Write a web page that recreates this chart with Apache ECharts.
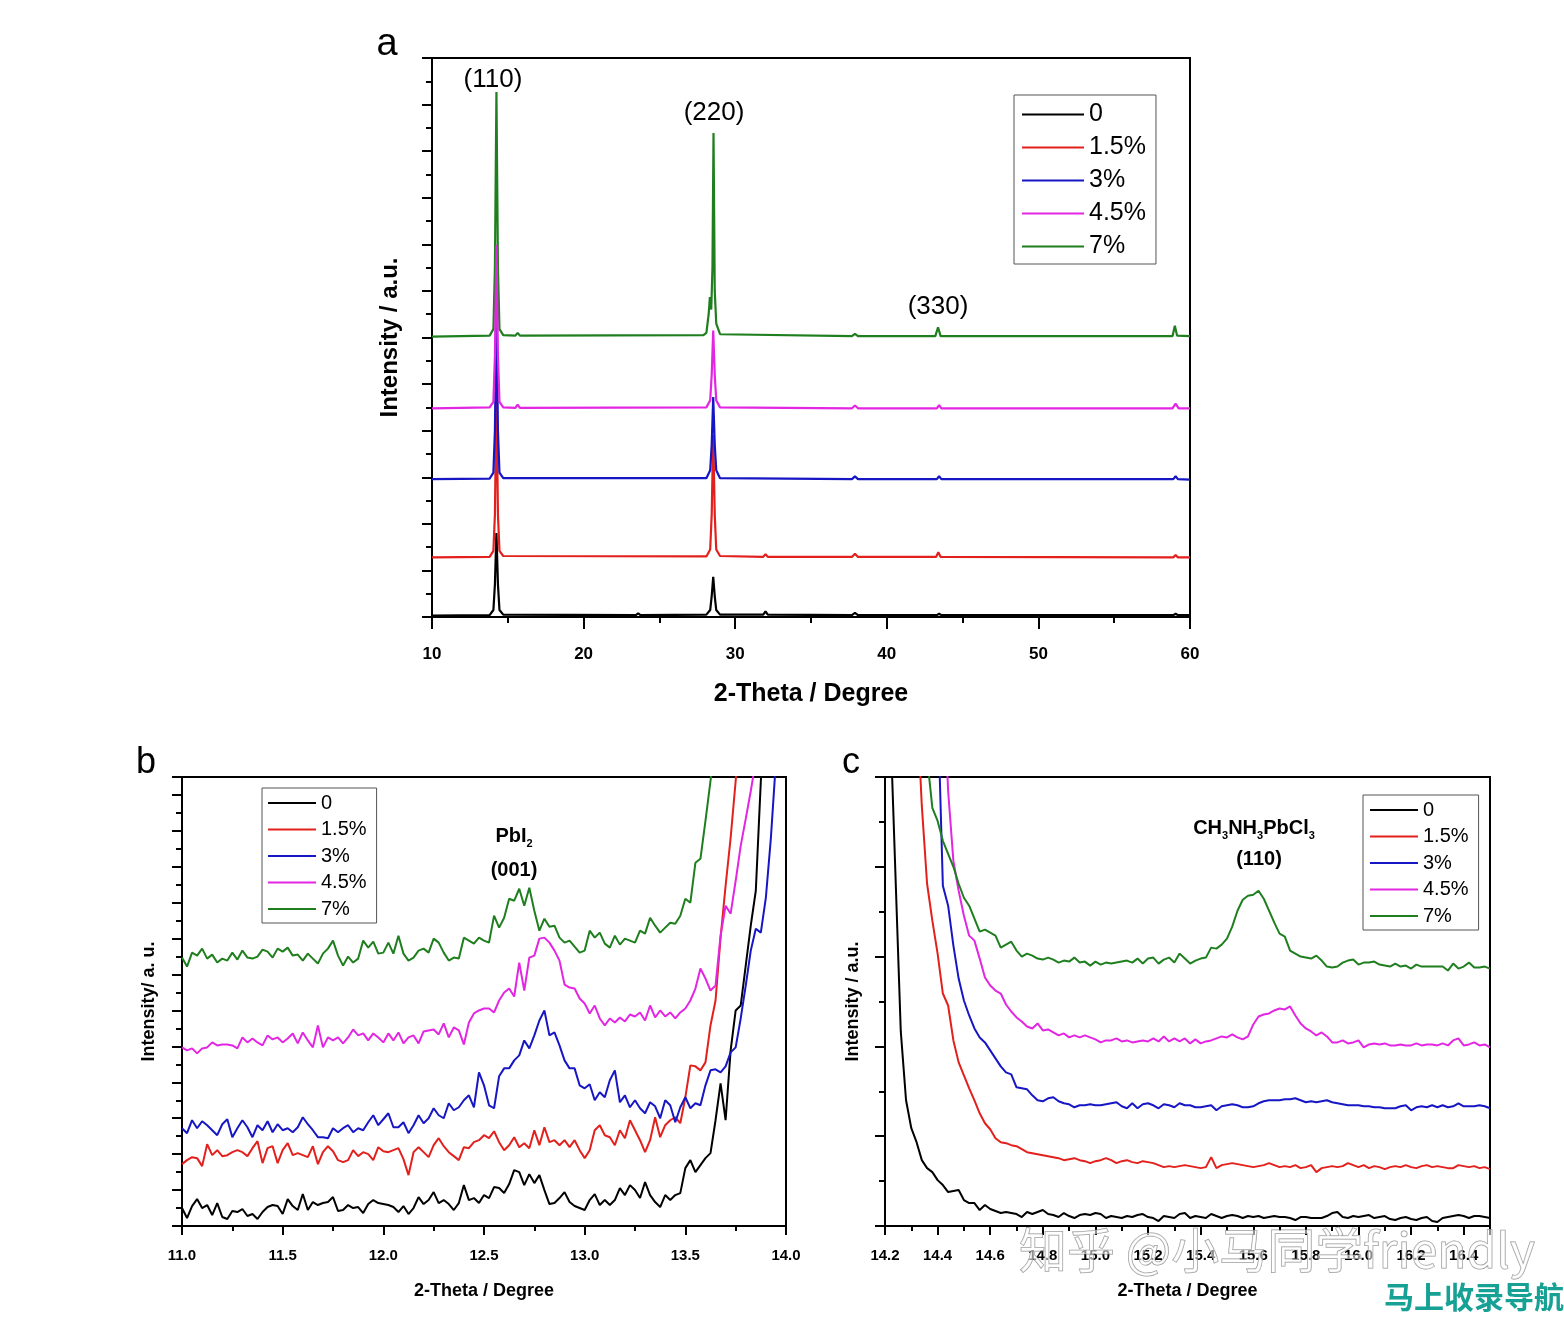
<!DOCTYPE html>
<html>
<head>
<meta charset="utf-8">
<script src="https://cdn.jsdelivr.net/npm/echarts@6/dist/echarts.min.js"></script>
<style>
html,body{margin:0;padding:0;background:#fff;}
#chart{width:1564px;height:1318px;}
</style>
</head>
<body>
<div id="chart"></div>
<script>
// ---------- names & colours ----------
var seriesNames = ['0', '1.5%', '3%', '4.5%', '7%'];
var seriesColors = ['#000000', '#e2201c', '#1616c4', '#e226e2', '#1f7f1f'];

// ---------- panel a : full XRD patterns [2theta, intensity a.u.] ----------
var aBlack = [[10,0.03],[13.8,0.04],[14.05,0.15],[14.15,0.7],[14.25,1.80],[14.35,0.7],[14.45,0.15],[14.7,0.05],[23.45,0.04],[23.6,0.08],[23.75,0.04],[28.1,0.05],[28.35,0.15],[28.45,0.45],[28.55,0.86],[28.65,0.45],[28.75,0.15],[29.0,0.05],[31.85,0.05],[32.0,0.12],[32.15,0.05],[37.7,0.04],[37.9,0.09],[38.1,0.04],[43.3,0.04],[43.45,0.07],[43.6,0.04],[58.9,0.04],[59.05,0.07],[59.2,0.04],[60,0.04]];
var aRed = [[10,1.28],[13.8,1.29],[14.05,1.42],[14.15,2.2],[14.25,4.8],[14.35,2.2],[14.45,1.42],[14.7,1.31],[28.1,1.30],[28.35,1.45],[28.45,2.2],[28.55,3.9],[28.65,2.2],[28.75,1.45],[29.0,1.31],[31.85,1.29],[32.0,1.35],[32.15,1.29],[37.7,1.29],[37.9,1.36],[38.1,1.29],[43.25,1.29],[43.4,1.39],[43.55,1.29],[58.9,1.28],[59.05,1.33],[59.2,1.28],[60,1.28]];
var aBlue = [[10,2.96],[13.8,2.97],[14.05,3.1],[14.15,4.0],[14.25,6.6],[14.35,4.0],[14.45,3.1],[14.7,2.98],[28.1,2.98],[28.35,3.15],[28.45,3.7],[28.55,4.72],[28.65,3.7],[28.75,3.15],[29.0,2.98],[37.7,2.96],[37.9,3.02],[38.1,2.96],[43.3,2.96],[43.45,3.02],[43.6,2.96],[58.9,2.96],[59.05,3.02],[59.2,2.96],[60,2.95]];
var aMagenta = [[10,4.48],[13.8,4.5],[14.05,4.62],[14.15,5.6],[14.25,7.99],[14.35,5.6],[14.45,4.62],[14.7,4.5],[15.5,4.49],[15.65,4.56],[15.8,4.49],[28.1,4.5],[28.35,4.65],[28.45,5.2],[28.55,6.15],[28.65,5.2],[28.75,4.65],[29.0,4.5],[37.7,4.48],[37.9,4.54],[38.1,4.48],[43.3,4.48],[43.45,4.55],[43.6,4.48],[58.85,4.48],[59.05,4.58],[59.25,4.48],[60,4.48]];
var aGreen = [[10,6.02],[13.8,6.04],[14.05,6.18],[14.15,7.5],[14.25,11.27],[14.35,7.5],[14.45,6.18],[14.7,6.05],[15.5,6.04],[15.65,6.1],[15.8,6.04],[27.9,6.05],[28.1,6.1],[28.25,6.5],[28.33,6.87],[28.42,6.6],[28.5,7.5],[28.57,10.39],[28.65,7.0],[28.75,6.3],[29.0,6.07],[37.7,6.03],[37.9,6.08],[38.1,6.03],[43.2,6.03],[43.38,6.22],[43.55,6.03],[58.85,6.03],[59.0,6.25],[59.15,6.04],[60,6.03]];

// ---------- panel b : 11-14 deg zoom ----------
var bX = [11.000,11.025,11.050,11.075,11.100,11.125,11.150,11.175,11.200,11.225,11.250,11.275,11.300,11.325,11.350,11.375,11.400,11.425,11.450,11.475,11.500,11.525,11.550,11.575,11.600,11.625,11.650,11.675,11.700,11.725,11.750,11.775,11.800,11.825,11.850,11.875,11.900,11.925,11.950,11.975,12.000,12.025,12.050,12.075,12.100,12.125,12.150,12.175,12.200,12.225,12.250,12.275,12.300,12.325,12.350,12.375,12.400,12.425,12.450,12.475,12.500,12.525,12.550,12.575,12.600,12.625,12.650,12.675,12.700,12.725,12.750,12.775,12.800,12.825,12.850,12.875,12.900,12.925,12.950,12.975,13.000,13.025,13.050,13.075,13.100,13.125,13.150,13.175,13.200,13.225,13.250,13.275,13.300,13.325,13.350,13.375,13.400,13.425,13.450,13.475,13.500,13.525,13.550,13.575,13.600,13.625,13.650,13.675,13.700,13.725,13.750,13.775,13.800,13.825,13.850,13.875,13.900,13.925,13.950,13.975,14.000];
var bBlack = [18,8,20,27,18,21,11,23,9,7,15,14,17,10,12,7,14,19,21,20,12,27,20,16,32,16,24,21,23,24,29,15,16,21,18,19,13,22,26,23,22,21,19,14,20,12,18,29,22,26,34,23,26,22,16,23,41,26,28,23,31,28,39,38,33,42,56,54,41,52,43,51,36,22,23,28,34,24,20,18,16,26,32,21,26,21,26,38,31,41,36,28,44,31,24,19,31,26,31,33,58,66,54,61,68,73,106,143,106,176,216,221,261,301,336,446,520];
var bRed = [62,66,69,68,60,82,71,76,70,71,74,76,74,70,78,85,63,78,80,63,76,83,71,73,71,69,80,62,74,80,75,66,64,66,76,70,74,72,66,79,75,74,76,78,67,51,74,79,74,69,81,88,80,74,70,66,79,78,84,86,91,88,95,84,76,81,89,79,83,78,96,81,99,84,86,81,86,79,86,76,68,76,96,101,91,89,81,96,88,106,96,86,74,86,109,89,101,106,109,103,129,161,160,156,164,201,226,289,341,389,446,520];
var bBlue = [98,93,106,98,105,101,96,91,102,107,89,98,106,99,89,101,96,105,94,102,96,98,94,99,109,102,96,89,89,88,98,94,98,101,94,98,96,104,111,101,107,113,99,99,104,93,101,111,103,108,118,111,108,123,116,119,126,131,119,154,141,121,118,150,158,158,166,171,186,178,191,206,216,191,194,181,166,158,158,141,138,142,126,134,129,146,156,124,131,119,126,118,113,124,120,108,126,121,104,119,129,118,123,121,141,156,157,154,160,174,179,208,241,276,298,294,329,389,466];
var bMagenta = [179,176,178,173,178,179,184,181,182,182,181,178,189,184,188,184,181,191,187,189,184,188,193,183,194,186,179,201,179,189,186,189,183,189,197,191,193,186,193,189,184,193,186,194,183,189,191,183,195,196,197,192,203,189,199,196,182,204,213,216,218,218,214,226,234,238,230,264,236,269,271,288,289,284,276,266,242,239,238,228,223,213,221,208,201,208,204,209,205,212,210,214,206,221,209,216,210,214,208,214,218,226,238,258,248,236,241,291,321,313,346,381,408,436,466];
var bGreen = [269,260,274,271,278,268,272,264,268,266,274,267,276,269,268,270,277,275,269,278,275,279,271,272,266,273,268,263,273,278,286,271,261,270,264,268,286,279,285,273,274,284,273,291,273,266,269,276,278,274,288,284,274,266,269,268,289,286,283,289,286,284,311,299,309,328,326,338,321,339,316,296,308,300,301,289,284,286,280,274,276,296,289,294,283,279,291,282,288,286,284,296,293,309,301,294,299,304,303,311,328,324,364,368,406,446,486];

// ---------- panel c : 14.2-16.5 deg zoom ----------
var cX = [14.20,14.22,14.24,14.26,14.28,14.30,14.32,14.34,14.36,14.38,14.40,14.42,14.44,14.46,14.48,14.50,14.52,14.54,14.56,14.58,14.60,14.62,14.64,14.66,14.68,14.70,14.72,14.74,14.76,14.78,14.80,14.82,14.84,14.86,14.88,14.90,14.92,14.94,14.96,14.98,15.00,15.02,15.04,15.06,15.08,15.10,15.12,15.14,15.16,15.18,15.20,15.22,15.24,15.26,15.28,15.30,15.32,15.34,15.36,15.38,15.40,15.42,15.44,15.46,15.48,15.50,15.52,15.54,15.56,15.58,15.60,15.62,15.64,15.66,15.68,15.70,15.72,15.74,15.76,15.78,15.80,15.82,15.84,15.86,15.88,15.90,15.92,15.94,15.96,15.98,16.00,16.02,16.04,16.06,16.08,16.10,16.12,16.14,16.16,16.18,16.20,16.22,16.24,16.26,16.28,16.30,16.32,16.34,16.36,16.38,16.40,16.42,16.44,16.46,16.48,16.50];
var cBlack = [650,506,350,195,126,98,84,66,58,54,46,41,34,35,36,26,23,23,16,21,17,15,13,14,13,12,9,14,12,14,16,12,11,9,13,10,8,11,12,11,13,12,8,10,9,8,10,9,11,12,9,8,5,10,9,8,12,13,8,10,9,8,12,10,8,10,11,10,8,10,9,10,8,9,10,9,9,8,6,9,9,8,8,8,10,13,14,9,8,10,9,10,11,8,9,10,7,6,8,9,7,6,8,9,5,4,8,9,10,11,10,8,10,10,9,8];
var cRed = [null,null,null,null,null,640,530,421,343,306,273,233,221,186,164,151,138,126,113,103,97,88,84,83,81,80,77,74,73,72,71,70,69,68,66,67,68,66,65,63,65,66,68,66,63,65,66,64,63,65,64,63,61,59,60,59,60,61,60,59,58,59,69,58,61,62,63,62,61,60,59,60,61,63,61,59,60,59,61,58,59,61,54,58,59,60,59,60,63,61,59,61,58,60,59,57,59,60,59,61,59,58,60,61,59,60,59,58,58,61,60,59,60,58,59,57];
var cBlue = [null,null,null,null,null,null,null,null,null,null,526,341,321,281,248,226,211,198,189,184,176,168,160,154,152,139,138,137,131,126,125,128,129,125,123,122,119,121,121,122,121,121,122,123,124,120,118,123,118,122,123,121,118,122,121,119,123,121,121,119,119,120,121,116,120,121,122,121,119,119,120,123,125,126,126,126,127,127,128,126,124,125,124,125,126,124,123,122,121,121,121,120,120,119,119,118,118,118,120,121,116,119,120,119,121,119,121,119,120,123,120,120,120,121,120,118];
var cMagenta = [null,null,null,null,null,null,null,null,null,null,null,560,436,366,336,311,291,286,268,249,241,236,233,222,215,209,205,200,198,203,196,197,194,191,193,189,191,189,191,189,187,184,186,186,188,185,186,184,185,186,185,188,185,190,185,188,185,188,183,187,183,185,186,188,190,189,192,189,187,190,202,210,212,213,216,218,217,220,211,203,198,195,191,194,190,184,184,186,183,184,186,179,182,183,182,183,181,181,182,181,181,183,181,182,182,181,183,181,186,188,181,182,184,181,182,179];
var cGreen = [null,null,null,null,null,null,null,null,470,419,406,386,373,360,343,329,321,308,295,297,294,291,279,282,285,276,270,273,271,268,267,269,267,264,266,265,269,264,265,261,265,262,264,263,264,265,266,264,268,263,268,269,263,267,269,264,273,268,263,266,268,269,279,278,282,288,300,316,327,331,332,336,328,316,304,293,290,276,273,270,269,268,271,266,260,259,260,264,266,267,262,264,264,265,262,261,260,263,260,261,258,262,260,260,260,260,260,256,263,258,260,264,259,259,260,258];

// ---------- axis tick labels ----------
var aXTicks = [10, 20, 30, 40, 50, 60];
var bXTicks = ['11.0','11.5','12.0','12.5','13.0','13.5','14.0'];
var cXTicks = ['14.2','14.4','14.6','14.8','15.0','15.2','15.4','15.6','15.8','16.0','16.2','16.4'];

// ---------- build ----------
function zip(xs, ys) {
  var out = [];
  for (var i = 0; i < ys.length; i++) {
    if (ys[i] !== null) out.push([xs[i], ys[i]]);
  }
  return out;
}
var FONT = '"Liberation Sans", Arial, Helvetica, sans-serif';

function xAxisCfg(grid, min, max, interval, tl, minLen, labelSize, margin, name, nameSize, nameGap, decimals, hideMax) {
  return {
    gridIndex: grid, type: 'value', min: min, max: max, interval: interval,
    axisLine: {onZero: false, lineStyle: {color: '#000', width: 2}},
    axisTick: {show: true, inside: false, length: tl, lineStyle: {color: '#000', width: 2}},
    minorTick: {show: true, splitNumber: 2, length: minLen, lineStyle: {color: '#000', width: 2}},
    splitLine: {show: false},
    axisLabel: {
      color: '#000', fontFamily: FONT, fontWeight: 'bold', fontSize: labelSize, margin: margin,
      showMaxLabel: hideMax ? false : null,
      formatter: function (v) { return decimals ? v.toFixed(decimals) : String(v); }
    },
    name: name, nameLocation: 'middle', nameGap: nameGap,
    nameTextStyle: {color: '#000', fontFamily: FONT, fontWeight: 'bold', fontSize: nameSize}
  };
}
function yAxisCfg(grid, max, interval, tl, minLen, name, nameSize, nameGap) {
  return {
    gridIndex: grid, type: 'value', min: 0, max: max, interval: interval,
    axisLine: {onZero: false, lineStyle: {color: '#000', width: 2}},
    axisTick: {show: true, inside: false, length: tl, lineStyle: {color: '#000', width: 2}},
    minorTick: {show: true, splitNumber: 2, length: minLen, lineStyle: {color: '#000', width: 2}},
    splitLine: {show: false},
    axisLabel: {show: false},
    name: name, nameLocation: 'middle', nameGap: nameGap,
    nameTextStyle: {color: '#000', fontFamily: FONT, fontWeight: 'bold', fontSize: nameSize}
  };
}

var series = [];
function addSeries(grid, datas, width) {
  for (var k = 0; k < 5; k++) {
    series.push({
      name: seriesNames[k], type: 'line', xAxisIndex: grid, yAxisIndex: grid,
      data: datas[k], showSymbol: false, symbol: 'none', smooth: false, clip: true,
      color: seriesColors[k],
      lineStyle: {color: seriesColors[k], width: width},
      z: (grid === 0 && k === 3) ? 4 : 2 + k * 0.1,
      animation: false, silent: true
    });
  }
}
addSeries(0, [aBlack, aRed, aBlue, aMagenta, aGreen], 2.2);
addSeries(1, [zip(bX, bBlack), zip(bX, bRed), zip(bX, bBlue), zip(bX, bMagenta), zip(bX, bGreen)], 2);
addSeries(2, [zip(cX, cBlack), zip(cX, cRed), zip(cX, cBlue), zip(cX, cMagenta), zip(cX, cGreen)], 2);

function legendCfg(left, top, itemWidth, itemGap, fontSize, padding) {
  return {
    left: left, top: top, orient: 'vertical', data: seriesNames,
    icon: 'rect', itemWidth: itemWidth, itemHeight: 2, itemGap: itemGap, padding: padding,
    borderColor: '#555', borderWidth: 1, selectedMode: false,
    textStyle: {color: '#000', fontFamily: FONT, fontSize: fontSize}
  };
}

function txt(x, y, text, size, weight, extra) {
  var st = {
    x: x, y: y, text: text, fill: '#000',
    font: (weight || 'normal') + ' ' + size + 'px ' + FONT,
    align: 'center', verticalAlign: 'middle',
    textAlign: 'center', textVerticalAlign: 'middle'
  };
  if (extra) for (var k in extra) st[k] = extra[k];
  return {type: 'text', z: 10, style: st};
}

var option = {
  animation: false,
  backgroundColor: '#fff',
  grid: [
    {left: 432, top: 58, width: 758, height: 559, show: true, borderColor: '#000', borderWidth: 2, backgroundColor: 'transparent'},
    {left: 182, top: 777, width: 604, height: 449, show: true, borderColor: '#000', borderWidth: 2, backgroundColor: 'transparent'},
    {left: 885, top: 777, width: 605, height: 449, show: true, borderColor: '#000', borderWidth: 2, backgroundColor: 'transparent'}
  ],
  xAxis: [
    xAxisCfg(0, aXTicks[0], aXTicks[aXTicks.length - 1], 10, 12, 6, 17, 29, '2-Theta / Degree', 25, 65, 0, false),
    xAxisCfg(1, Number(bXTicks[0]), Number(bXTicks[bXTicks.length - 1]), 0.5, 9, 5, 15, 22, '2-Theta / Degree', 18, 56, 1, false),
    xAxisCfg(2, Number(cXTicks[0]), 16.5, 0.2, 9, 5, 15, 22, '2-Theta / Degree', 18, 56, 1, true)
  ],
  yAxis: [
    yAxisCfg(0, 12, 1, 10, 6, 'Intensity / a.u.', 24, 30),
    yAxisCfg(1, 450, 36, 10, 6, 'Intensity/ a. u.', 18, 24),
    yAxisCfg(2, 450, 90, 10, 6, 'Intensity / a.u.', 18, 23)
  ],
  legend: [
    legendCfg(1014, 95, 62, 8, 25, [7, 10, 5, 8]),
    legendCfg(262, 788, 48, 6.5, 20, [5, 10, 4, 6]),
    legendCfg(1363, 795, 48, 6.5, 20, [5, 10, 4, 7])
  ],
  series: series,
  graphic: [
    txt(387, 45, 'a', 38),
    txt(146, 763, 'b', 36),
    txt(851, 763, 'c', 36),
    txt(493, 80, '(110)', 26),
    txt(714, 113, '(220)', 26),
    txt(938, 307, '(330)', 26),
    {
      type: 'text', z: 10,
      style: {
        x: 514, y: 836, align: 'center', verticalAlign: 'middle', textAlign: 'center', textVerticalAlign: 'middle',
        text: '{n|PbI}{s|2}',
        rich: {
          n: {fontFamily: FONT, fontWeight: 'bold', fontSize: 20, lineHeight: 26, verticalAlign: 'middle', fill: '#000', color: '#000'},
          s: {fontFamily: FONT, fontWeight: 'bold', fontSize: 11, lineHeight: 26, verticalAlign: 'bottom', fill: '#000', color: '#000'}
        }
      }
    },
    txt(514, 870, '(001)', 20, 'bold'),
    {
      type: 'text', z: 10,
      style: {
        x: 1254, y: 828, align: 'center', verticalAlign: 'middle', textAlign: 'center', textVerticalAlign: 'middle',
        text: '{n|CH}{s|3}{n|NH}{s|3}{n|PbCl}{s|3}',
        rich: {
          n: {fontFamily: FONT, fontWeight: 'bold', fontSize: 20, lineHeight: 26, verticalAlign: 'middle', fill: '#000', color: '#000'},
          s: {fontFamily: FONT, fontWeight: 'bold', fontSize: 11, lineHeight: 26, verticalAlign: 'bottom', fill: '#000', color: '#000'}
        }
      }
    },
    txt(1259, 859, '(110)', 20, 'bold'),
    txt(1277, 1250, '知乎 @小马同学friendly', 48, 'normal', {
      font: 'normal 48px "Noto Sans CJK SC", sans-serif',
      fill: 'rgba(255,255,255,0.55)', stroke: 'rgba(110,110,110,0.75)', lineWidth: 1
    }),
    txt(1474, 1297, '马上收录导航', 30, 'bold', {
      font: 'bold 30px "Noto Sans CJK SC", sans-serif', fill: '#17a194'
    })
  ]
};

var chart = echarts.init(document.getElementById('chart'), null, {renderer: 'canvas'});
chart.setOption(option);
</script>
</body>
</html>
